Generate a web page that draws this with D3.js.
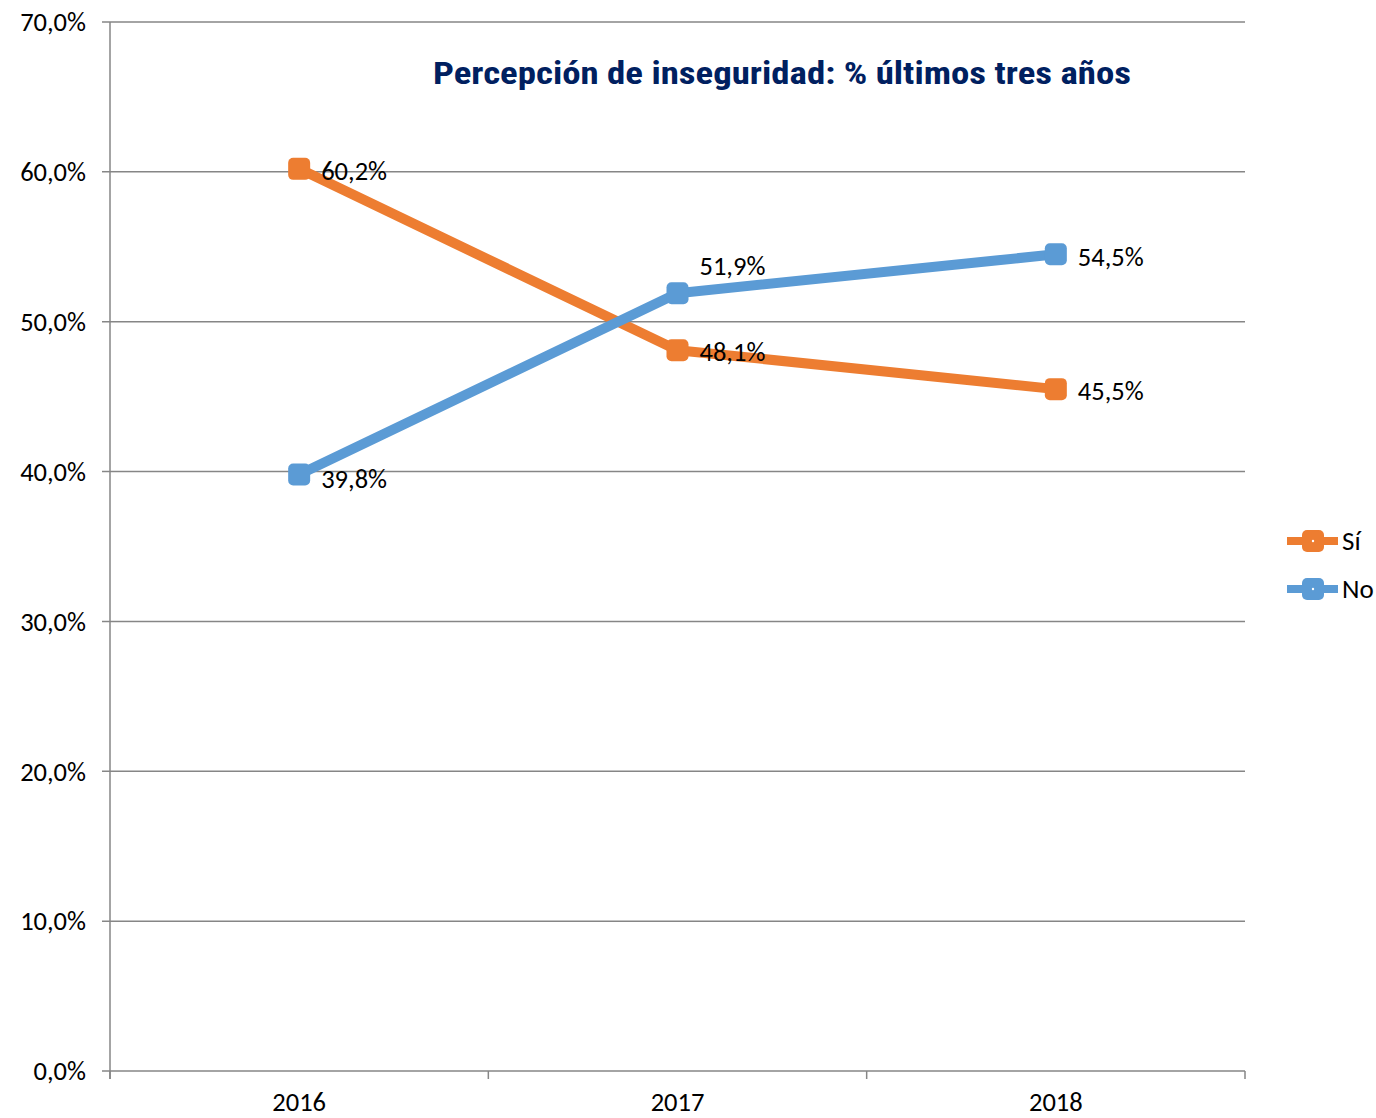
<!DOCTYPE html>
<html><head><meta charset="utf-8">
<script src="https://cdn.jsdelivr.net/npm/d3@7"></script>
<style>body{margin:0;background:#fff}</style>
</head><body>
<svg id="c" width="1376" height="1118"></svg>
<script>
const years = ["2016","2017","2018"];
const si = [60.2, 48.1, 45.5];
const no = [39.8, 51.9, 54.5];
const yTicks = [0,10,20,30,40,50,60,70];
const seriesNames = ["Sí","No"];
const title = "Percepción de inseguridad: % últimos tres años";

const svg = d3.select("#c");
const L=110, R=1245, T=22, B=1071;
const x = d3.scaleBand().domain(years).range([L,R]);
const y = d3.scaleLinear().domain([0,70]).range([B,T]);
const fmt = v => v.toFixed(1).replace(".", ",") + "%";
const font = "Carlito, 'Noto Sans', 'Open Sans', sans-serif";
const grid = "#868686";
const fs = 26.5;

svg.append("g").selectAll("line").data(yTicks).join("line")
  .attr("x1",L-8).attr("x2",R).attr("y1",d=>y(d)).attr("y2",d=>y(d))
  .attr("stroke",grid).attr("stroke-width",1.5);
svg.append("line").attr("x1",L).attr("x2",L).attr("y1",T).attr("y2",B+8).attr("stroke",grid).attr("stroke-width",1.5);
svg.append("g").selectAll("text").data(yTicks).join("text")
  .attr("x",L-24).attr("y",d=>y(d)).attr("dy","0.35em").attr("text-anchor","end")
  .attr("font-family",font).attr("font-size",fs).attr("fill","#000").text(d=>fmt(d));
const bounds = years.map(d=>x(d)).concat([R]);
svg.append("g").selectAll("line").data(bounds).join("line")
  .attr("x1",d=>d).attr("x2",d=>d).attr("y1",B).attr("y2",B+8).attr("stroke",grid).attr("stroke-width",1.5);
svg.append("g").selectAll("text").data(years).join("text")
  .attr("x",d=>x(d)+x.bandwidth()/2).attr("y",1111).attr("text-anchor","middle")
  .attr("font-family",font).attr("font-size",fs).attr("fill","#000").text(d=>d);

svg.append("text").attr("x",782).attr("y",84).attr("text-anchor","middle")
  .attr("font-family","'Liberation Sans Narrow', 'Roboto Condensed', 'Liberation Sans', sans-serif")
  .attr("font-weight","bold").attr("font-size",32).attr("fill","#002060")
  .attr("textLength",698).attr("lengthAdjust","spacingAndGlyphs").text(title);

const cx = d => x(d)+x.bandwidth()/2;
const series = [
  {name:seriesNames[0], vals:si, color:"#ED7D31"},
  {name:seriesNames[1], vals:no, color:"#5B9BD5"}
];
const line = d3.line().x((d,i)=>cx(years[i])).y(d=>y(d));
series.forEach(s=>{
  svg.append("path").attr("d",line(s.vals)).attr("fill","none").attr("stroke",s.color)
    .attr("stroke-width",10).attr("stroke-linejoin","round");
  svg.append("g").selectAll("rect").data(s.vals).join("rect")
    .attr("x",(d,i)=>cx(years[i])-11).attr("y",d=>y(d)-11).attr("width",22).attr("height",22)
    .attr("rx",5).attr("fill",s.color);
});
const labelOffsets = {"Sí":[2,2,2], "No":[4,-28,2]};
series.forEach(s=>{
  svg.append("g").selectAll("text").data(s.vals).join("text")
    .attr("x",(d,i)=>cx(years[i])+22).attr("y",(d,i)=>y(d)+labelOffsets[s.name][i]).attr("dy","0.35em")
    .attr("font-family",font).attr("font-size",fs).attr("fill","#000").text(d=>fmt(d));
});

series.forEach((s,i)=>{
  const ly = 541 + i*48;
  svg.append("line").attr("x1",1287).attr("x2",1338).attr("y1",ly).attr("y2",ly).attr("stroke",s.color).attr("stroke-width",8);
  svg.append("rect").attr("x",1302).attr("y",ly-11).attr("width",22).attr("height",22).attr("rx",5).attr("fill",s.color);
  svg.append("circle").attr("cx",1313).attr("cy",ly).attr("r",1.2).attr("fill","#fff");
  svg.append("text").attr("x",1342).attr("y",ly).attr("dy","0.35em").attr("font-family",font).attr("font-size",27).attr("fill","#000").text(s.name);
});
</script>
</body></html>
